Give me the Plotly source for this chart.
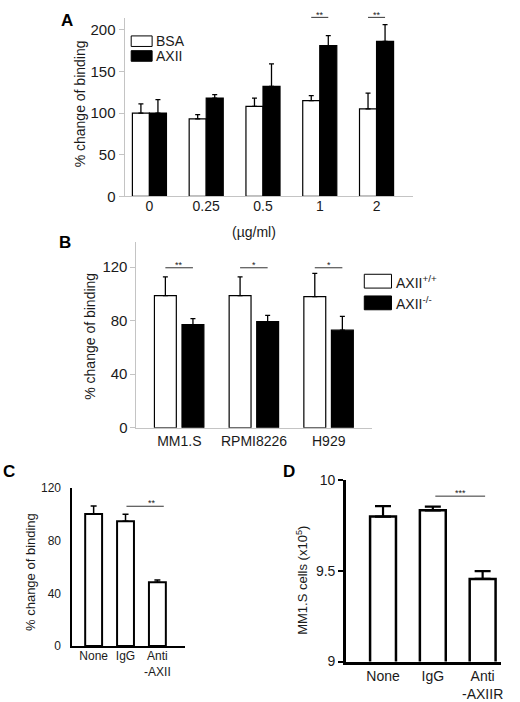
import plotly.graph_objects as go

W, H = 520, 702
FONT = "Liberation Sans, Arial, sans-serif"
INK = "#1a1a1a"
GRAY = "#c4c4c4"
Y_SCALE = 0.988  # the page is shown slightly squeezed vertically

# ---------------- data ----------------
# Panel A
a_doses = ["0", "0.25", "0.5", "1", "2"]
a_series = ["BSA", "AXII"]
a_bsa = [100, 93, 108, 115, 105]
a_bsa_err = [11, 5, 10, 6, 19]
a_axii = [100, 118, 132, 181, 186]
a_axii_err = [16, 4, 27, 12, 20]
a_sig_idx = [3, 4]
a_sig_lbl = ["**", "**"]

# Panel B
b_lines = ["MM1.S", "RPMI8226", "H929"]
b_series = ["AXII<sup>+/+</sup>", "AXII<sup>-/-</sup>"]
b_wt = [98.7, 98.7, 97.9]
b_wt_err = [14, 14, 17.5]
b_ko = [77.1, 79.3, 72.9]
b_ko_err = [4.4, 4.7, 10.3]
b_sig_lbl = ["**", "*", "*"]
b_sig_level = 119.5

# Panel C
c_conds = ["None", "IgG", "Anti<br>-AXII"]
c_vals = [100.2, 94.7, 48.4]
c_err = [6.0, 5.3, 1.7]
c_sig_pair = (1, 2)
c_sig_lbl = "**"
c_sig_level = 106

# Panel D
d_conds = ["None", "IgG", "Anti<br>-AXIIR"]
d_vals = [9.800, 9.835, 9.456]
d_err = [0.058, 0.020, 0.043]
d_sig_pair = (1, 2)
d_sig_lbl = "***"
d_sig_level = 9.913


def px(x):
    return x / W


def py(y):
    return 1 - y / (H * Y_SCALE)


fig = go.Figure()

# ---------------- panel A ----------------
A_W = 0.30
fig.add_trace(go.Bar(
    x=a_doses, y=a_bsa, name=a_series[0], xaxis="x", yaxis="y",
    offset=-A_W, width=A_W,
    marker=dict(color="white", line=dict(color="black", width=1.2)),
    error_y=dict(type="data", array=a_bsa_err, arrayminus=[0] * len(a_bsa),
                 symmetric=False, color="black", thickness=1.3, width=2.5),
    showlegend=False))
fig.add_trace(go.Bar(
    x=a_doses, y=a_axii, name=a_series[1], xaxis="x", yaxis="y",
    offset=0, width=A_W,
    marker=dict(color="black", line=dict(color="black", width=1.2)),
    error_y=dict(type="data", array=a_axii_err, arrayminus=[0] * len(a_axii),
                 symmetric=False, color="black", thickness=1.3, width=2.5),
    showlegend=False))

# ---------------- panel B ----------------
B_W = 0.293
B_OFF_WT = -0.333
B_OFF_KO = 0.036
fig.add_trace(go.Bar(
    x=b_lines, y=b_wt, name=b_series[0], xaxis="x2", yaxis="y2",
    offset=B_OFF_WT, width=B_W,
    marker=dict(color="white", line=dict(color="black", width=1.2)),
    error_y=dict(type="data", array=b_wt_err, arrayminus=[0] * len(b_wt),
                 symmetric=False, color="black", thickness=1.3, width=2.5),
    showlegend=False))
fig.add_trace(go.Bar(
    x=b_lines, y=b_ko, name=b_series[1], xaxis="x2", yaxis="y2",
    offset=B_OFF_KO, width=B_W,
    marker=dict(color="black", line=dict(color="black", width=1.2)),
    error_y=dict(type="data", array=b_ko_err, arrayminus=[0] * len(b_ko),
                 symmetric=False, color="black", thickness=1.3, width=2.5),
    showlegend=False))

# ---------------- panel C ----------------
fig.add_trace(go.Bar(
    x=c_conds, y=c_vals, xaxis="x3", yaxis="y3", width=0.53,
    marker=dict(color="white", line=dict(color="black", width=2)),
    error_y=dict(type="data", array=c_err, arrayminus=[0] * len(c_vals),
                 symmetric=False, color="black", thickness=1.5, width=3),
    showlegend=False))

# ---------------- panel D ----------------
fig.add_trace(go.Bar(
    x=d_conds, y=d_vals, xaxis="x4", yaxis="y4", width=0.52,
    marker=dict(color="white", line=dict(color="black", width=2.5)),
    error_y=dict(type="data", array=d_err, arrayminus=[0] * len(d_vals),
                 symmetric=False, color="black", thickness=2.2, width=8),
    showlegend=False))

tickf = dict(family=FONT, size=14, color=INK)
common = dict(showgrid=False, zeroline=False, fixedrange=True)

fig.update_layout(
    width=W, height=H, margin=dict(l=0, r=0, t=0, b=0),
    paper_bgcolor="white", plot_bgcolor="white",
    barmode="overlay", font=dict(family=FONT, color=INK),
    # A
    xaxis=dict(domain=[px(125), px(415)], anchor="y", type="category",
               range=[-25 / 57, 265 / 57], showline=True, linecolor=GRAY,
               linewidth=1, ticks="", ticklabelstandoff=-3, tickfont=tickf, **common),
    yaxis=dict(domain=[py(191), py(10)], anchor="x", range=[0, 181 / 0.845],
               tickvals=[0, 50, 100, 150, 200], showline=True, linecolor=GRAY,
               linewidth=1, ticks="outside", ticklen=5, tickcolor=GRAY,
               tickfont=dict(family=FONT, size=15, color=INK), **common),
    # B
    xaxis2=dict(domain=[px(137), px(373)], anchor="y2", type="category",
                range=[-43 / 75, 193 / 75], showline=True, linecolor=GRAY,
                linewidth=1, ticks="", tickfont=tickf, **common),
    yaxis2=dict(domain=[py(425.7), py(237)], anchor="x2",
                range=[0, (425.7 - 237) / 1.358], tickvals=[0, 40, 80, 120],
                showline=True, linecolor=GRAY, linewidth=1, ticks="outside",
                ticklen=5, tickcolor=GRAY,
                tickfont=dict(family=FONT, size=15, color=INK), **common),
    # C
    xaxis3=dict(domain=[px(72.7), px(185.7)], anchor="y3", type="category",
                range=[-21.3 / 32, 91.7 / 32], showline=True, linecolor="black",
                linewidth=2, ticks="", ticklabelstandoff=-2,
                tickfont=dict(family=FONT, size=12, color=INK), **common),
    yaxis3=dict(domain=[py(647), py(486.5)], anchor="x3", range=[0, 120],
                tickvals=[0, 40, 80, 120], showline=True, linecolor="black",
                linewidth=2, ticks="", ticklabelstandoff=7,
                tickfont=dict(family=FONT, size=12, color=INK), **common),
    # D
    xaxis4=dict(domain=[px(347.3), px(503)], anchor="y4", type="category",
                range=[-37.2 / 50, 118.5 / 50], showline=True, linecolor="black",
                linewidth=2.5, ticks="",
                tickfont=dict(family=FONT, size=14, color=INK), **common),
    yaxis4=dict(domain=[py(662.7), py(479)], anchor="x4", range=[9, 10],
                tickvals=[9, 9.5, 10], ticktext=["9", "9.5", "10"],
                showline=True, linecolor="black", linewidth=2.5,
                ticks="outside", ticklen=5, tickwidth=2, tickcolor="black",
                tickfont=dict(family=FONT, size=14, color=INK), **common),
)

shapes = []
ann = []

# panel letters
for letter, x, y in [("A", 67, 13), ("B", 65, 238), ("C", 9, 470), ("D", 290, 470)]:
    ann.append(dict(text=f"<b>{letter}</b>", x=px(x), y=py(y), xref="paper",
                    yref="paper", showarrow=False, xanchor="center",
                    yanchor="middle", font=dict(family=FONT, size=17, color="black")))

# y titles
for txt, x, y, s in [("% change of binding", 80, 97, 14),
                     ("% change of binding", 90.7, 333, 14),
                     ("% change of binding", 30, 572, 13),
                     ("MM1.S cells (x10<sup>5</sup>)", 303, 580, 13)]:
    ann.append(dict(text=txt, x=px(x), y=py(y), xref="paper", yref="paper",
                    showarrow=False, textangle=-90, xanchor="center",
                    yanchor="middle", font=dict(family=FONT, size=s, color=INK)))

# unit label under panel A
ann.append(dict(text="(µg/ml)", x=px(255), y=py(217), xref="paper", yref="paper",
                showarrow=False, font=dict(family=FONT, size=14, color=INK)))

# legend A
for i, (name, fill) in enumerate(zip(a_series, ["white", "black"])):
    y0 = 28.3 + i * 15
    shapes.append(dict(type="rect", xref="paper", yref="paper",
                       x0=px(131.7), x1=px(152.7), y0=py(y0), y1=py(y0 + 10.7),
                       fillcolor=fill, line=dict(color="black", width=1)))
    ann.append(dict(text=name, x=px(155), y=py(y0 + 5.4), xref="paper",
                    yref="paper", showarrow=False, xanchor="left",
                    yanchor="middle", font=dict(family=FONT, size=14, color=INK)))

# legend B
for i, (name, fill) in enumerate(zip(b_series, ["white", "black"])):
    y0 = 270 + i * 22
    shapes.append(dict(type="rect", xref="paper", yref="paper",
                       x0=px(365.7), x1=px(393), y0=py(y0), y1=py(y0 + 14),
                       fillcolor=fill, line=dict(color="black", width=1)))
    ann.append(dict(text=name, x=px(396), y=py(y0 + 7.5), xref="paper",
                    yref="paper", showarrow=False, xanchor="left",
                    yanchor="middle", font=dict(family=FONT, size=14, color=INK)))

# significance A (above plot top)
for idx, lbl in zip(a_sig_idx, a_sig_lbl):
    x0, x1 = idx - A_W / 2, idx + A_W / 2
    shapes.append(dict(type="line", xref="x", yref="paper", x0=x0, x1=x1,
                       y0=py(9.5), y1=py(9.5), line=dict(color="#333", width=1)))
    ann.append(dict(text=lbl, x=idx, y=py(9.5), xref="x", yref="paper",
                    showarrow=False, yanchor="middle", yshift=2,
                    font=dict(family=FONT, size=9, color=INK)))

# significance B
for i, lbl in enumerate(b_sig_lbl):
    x0 = i + B_OFF_WT + B_W / 2
    x1 = i + B_OFF_KO + B_W / 2
    shapes.append(dict(type="line", xref="x2", yref="y2", x0=x0, x1=x1,
                       y0=b_sig_level, y1=b_sig_level, line=dict(color="#333", width=1)))
    ann.append(dict(text=lbl, x=(x0 + x1) / 2, y=b_sig_level, xref="x2", yref="y2",
                    showarrow=False, yanchor="middle", yshift=3,
                    font=dict(family=FONT, size=9, color=INK)))

# significance C
ci, cj = c_sig_pair
shapes.append(dict(type="line", xref="x3", yref="y3", x0=ci + 0.03, x1=cj + 0.2,
                   y0=c_sig_level, y1=c_sig_level, line=dict(color="#333", width=1)))
ann.append(dict(text=c_sig_lbl, x=ci + 0.84, y=c_sig_level, xref="x3", yref="y3",
                showarrow=False, yanchor="middle", yshift=3,
                font=dict(family=FONT, size=9, color=INK)))

# significance D
di, dj = d_sig_pair
shapes.append(dict(type="line", xref="x4", yref="y4", x0=di + 0.05, x1=dj + 0.05,
                   y0=d_sig_level, y1=d_sig_level, line=dict(color="#333", width=1)))
ann.append(dict(text=d_sig_lbl, x=(di + dj) / 2 + 0.05, y=d_sig_level, xref="x4",
                yref="y4", showarrow=False, yanchor="middle", yshift=3,
                font=dict(family=FONT, size=9, color=INK)))

fig.update_layout(shapes=shapes, annotations=ann)
fig.write_html(
    "out.html",
    post_script="document.body.style.margin='0';document.body.style.overflow='hidden';",
    config={"displayModeBar": False},
)
